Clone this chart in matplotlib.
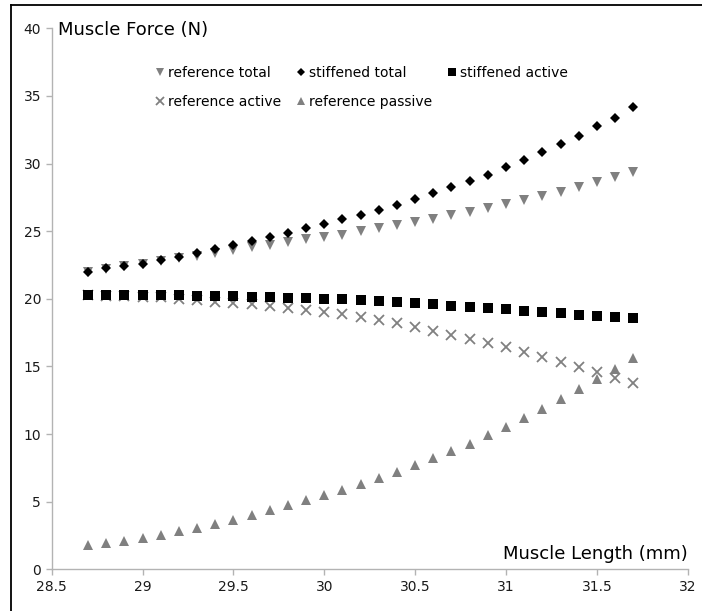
import matplotlib
matplotlib.use("Agg")
import matplotlib.pyplot as plt
from matplotlib.lines import Line2D

# ---------------------------------------------------------------------------
#  Force-length data (N vs mm)
# ---------------------------------------------------------------------------
length_mm = [28.7, 28.8, 28.9, 29.0, 29.1, 29.2, 29.3, 29.4, 29.5, 29.6, 29.7,
             29.8, 29.9, 30.0, 30.1, 30.2, 30.3, 30.4, 30.5, 30.6, 30.7, 30.8,
             30.9, 31.0, 31.1, 31.2, 31.3, 31.4, 31.5, 31.6, 31.7]

reference_total = [22.0, 22.2, 22.4, 22.6, 22.8, 23.0, 23.2, 23.4, 23.6, 23.8,
                   24.0, 24.2, 24.4, 24.55, 24.75, 25.0, 25.2, 25.45, 25.7, 25.9,
                   26.2, 26.4, 26.7, 27.0, 27.3, 27.6, 27.9, 28.3, 28.65, 29.0, 29.4]

stiffened_total = [22.0, 22.25, 22.4, 22.6, 22.9, 23.1, 23.35, 23.7, 24.0, 24.3,
                   24.6, 24.9, 25.2, 25.5, 25.9, 26.2, 26.6, 26.97, 27.37, 27.79,
                   28.23, 28.7, 29.19, 29.71, 30.27, 30.87, 31.43, 32.07, 32.74,
                   33.4, 34.15]

stiffened_active = [20.3, 20.3, 20.3, 20.28, 20.27, 20.25, 20.23, 20.2, 20.18,
                    20.15, 20.12, 20.08, 20.04, 20.0, 19.95, 19.9, 19.85, 19.78,
                    19.7, 19.6, 19.48, 19.39, 19.29, 19.21, 19.11, 19.0, 18.92,
                    18.82, 18.75, 18.67, 18.55]

reference_active = [20.25, 20.23, 20.2, 20.16, 20.1, 20.02, 19.93, 19.8, 19.68,
                    19.58, 19.46, 19.33, 19.17, 19.03, 18.87, 18.67, 18.43, 18.18,
                    17.91, 17.64, 17.33, 17.03, 16.7, 16.4, 16.04, 15.72, 15.35,
                    14.98, 14.56, 14.16, 13.75]

reference_passive = [1.8, 1.95, 2.12, 2.32, 2.55, 2.8, 3.07, 3.37, 3.68, 4.0,
                     4.35, 4.72, 5.1, 5.5, 5.9, 6.3, 6.72, 7.2, 7.7, 8.2, 8.74,
                     9.3, 9.92, 10.54, 11.2, 11.85, 12.56, 13.3, 14.04, 14.8, 15.64]

x_ticks = [28.5, 29, 29.5, 30, 30.5, 31, 31.5, 32]
x_tick_labels = ["28.5", "29", "29.5", "30", "30.5", "31", "31.5", "32"]
y_ticks = [0, 5, 10, 15, 20, 25, 30, 35, 40]

GREY = "#808080"
AXIS_GREY = "#b3b3b3"

W, H = 702, 611
fig = plt.figure(figsize=(W / 100, H / 100), dpi=100)
ax = fig.add_axes([51.7 / W, 1 - 569.3 / H, (687.7 - 51.7) / W, (569.3 - 28.3) / H])

# series, drawn back to front so the black marks sit on top
h_rt, = ax.plot(length_mm, reference_total, "v", color=GREY, ms=6.5, mew=0,
                label="reference total")
h_ra, = ax.plot(length_mm, reference_active, "x", color=GREY, ms=6.5, mew=1.3,
                label="reference active")
h_rp, = ax.plot(length_mm, reference_passive, "^", color=GREY, ms=6.5, mew=0,
                label="reference passive")
h_st, = ax.plot(length_mm, stiffened_total, "D", color="black", ms=4.6, mew=0,
                label="stiffened total")
h_sa, = ax.plot(length_mm, stiffened_active, "s", color="black", ms=6.6, mew=0,
                label="stiffened active")

ax.set_xlim(28.5, 32)
ax.set_ylim(0, 40)
ax.set_xticks(x_ticks)
ax.set_xticklabels(x_tick_labels)
ax.set_yticks(y_ticks)

for side in ("top", "right"):
    ax.spines[side].set_visible(False)
for side in ("left", "bottom"):
    ax.spines[side].set_color(AXIS_GREY)
    ax.spines[side].set_linewidth(1.0)
ax.tick_params(axis="both", colors=AXIS_GREY, labelcolor="#1a1a1a",
               length=4.2, width=1.0, labelsize=10)
ax.tick_params(axis="x", pad=3.5)
ax.tick_params(axis="y", pad=3.5)

# axis titles sit inside the plot area
ax.text(0.01, 0.996, "Muscle Force (N)", transform=ax.transAxes,
        ha="left", va="center", fontsize=13, color="black")
ax.text(1.0, 0.019, "Muscle Length (mm)", transform=ax.transAxes,
        ha="right", va="baseline", fontsize=13, color="black")

# column-major order gives rows: total/total/active, active/passive
leg = ax.legend(handles=[h_rt, h_ra, h_st, h_rp, h_sa], ncol=3, frameon=False,
                loc="upper left", bbox_to_anchor=(0.1624, 0.931),
                fontsize=10, handlelength=0.7, handletextpad=0.25,
                columnspacing=1.05, labelspacing=1.1, markerscale=0.9,
                borderaxespad=0, borderpad=0)

# page frame along the top and left edges
fx = 10.7 / W
fy = 1 - 4.5 / H
fig.add_artist(Line2D([fx, fx], [0, fy], transform=fig.transFigure,
                      color="black", lw=1.3))
fig.add_artist(Line2D([fx, 1], [fy, fy], transform=fig.transFigure,
                      color="black", lw=1.3))

fig.savefig("out.png", dpi=100)
